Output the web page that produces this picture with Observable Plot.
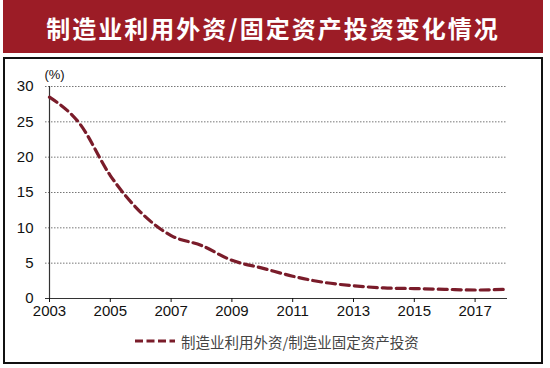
<!DOCTYPE html>
<html>
<head>
<meta charset="utf-8">
<script src="https://cdn.jsdelivr.net/npm/d3@7"></script>
<script src="https://cdn.jsdelivr.net/npm/@observablehq/plot@0.6"></script>
<style>
  html, body { margin: 0; padding: 0; background: #fff; }
  #wrap { position: relative; width: 550px; height: 368px; overflow: hidden; background: #fff; }
  #banner { position: absolute; left: 3px; top: 0; width: 540px; height: 53px; background: #9c1c26;
    color: #fff; font-family: "Noto Sans CJK SC", sans-serif; font-weight: 700; font-size: 24px;
    letter-spacing: 2px; text-align: center; line-height: 56px; }
  #box { position: absolute; left: 3px; top: 57px; width: 536px; height: 303px; border: 2px solid #111; }
  #chart { position: absolute; left: 0; top: 60px; }
  #legend { position: absolute; left: 135px; top: 330px; height: 22px; display: flex; align-items: center;
    font-family: "Noto Sans CJK SC", sans-serif; font-size: 14.5px; color: #444; }
  #legend svg { margin-right: 6px; }
</style>
</head>
<body>
<div id="wrap">
  <div id="banner">制造业利用外资/固定资产投资变化情况</div>
  <div id="box"></div>
  <div id="chart"></div>
  <div id="legend"></div>
</div>
<script>
const years = [2003, 2004, 2005, 2006, 2007, 2008, 2009, 2010, 2011, 2012, 2013, 2014, 2015, 2016, 2017, 2018];
const ratio = [28.5, 24.7, 17.4, 12.2, 8.9, 7.5, 5.4, 4.3, 3.15, 2.3, 1.8, 1.5, 1.4, 1.3, 1.2, 1.3];
const xTicks = [2003, 2005, 2007, 2009, 2011, 2013, 2015, 2017];
const yTicks = [0, 5, 10, 15, 20, 25, 30];
const seriesName = "制造业利用外资/制造业固定资产投资";
const lineColor = "#7a1c2a";

const data = years.map((y, i) => ({year: y, value: ratio[i]}));

const chart = Plot.plot({
  width: 550,
  height: 260,
  marginTop: 26,
  marginBottom: 22,
  marginLeft: 49,
  marginRight: 45,
  style: {fontFamily: "'Liberation Sans Narrow', 'Liberation Sans', Arial, sans-serif", fontSize: "14px", color: "#111", background: "transparent"},
  x: {domain: [2003, 2018], ticks: xTicks, tickFormat: d => String(d)},
  y: {domain: [0, 30], ticks: yTicks},
  marks: [
    Plot.ruleY(yTicks.filter(d => d > 0), {stroke: "#777", strokeWidth: 1, strokeDasharray: "1.5,1.5", insetLeft: -4, insetRight: -2}),
    Plot.ruleY([0], {stroke: "#333", strokeWidth: 1.2, insetLeft: -4, insetRight: -2}),
    Plot.ruleX([2003], {y1: 0, y2: 30, stroke: "#333", strokeWidth: 1.2}),
    Plot.axisX({ticks: xTicks, tickSize: 4, tickPadding: 3, tickFormat: d => String(d), label: null, fontSize: 15}),
    Plot.axisY({ticks: yTicks, tickSize: 0, tickPadding: 16, label: null, fontSize: 15}),
    Plot.text(["(%)"], {x: 2003, y: 30, text: d => d, dx: 5, dy: -12, fontSize: 13}),
    Plot.line(data, {x: "year", y: "value", stroke: lineColor, strokeWidth: 3.2, strokeDasharray: "9,5", curve: "monotone-x"})
  ]
});
document.getElementById("chart").appendChild(chart);

const legend = document.getElementById("legend");
legend.innerHTML = `<svg width="40" height="10"><line x1="0" y1="5" x2="40" y2="5" stroke="${lineColor}" stroke-width="3.2" stroke-dasharray="8,3.5"/></svg><span>${seriesName}</span>`;
</script>
</body>
</html>
